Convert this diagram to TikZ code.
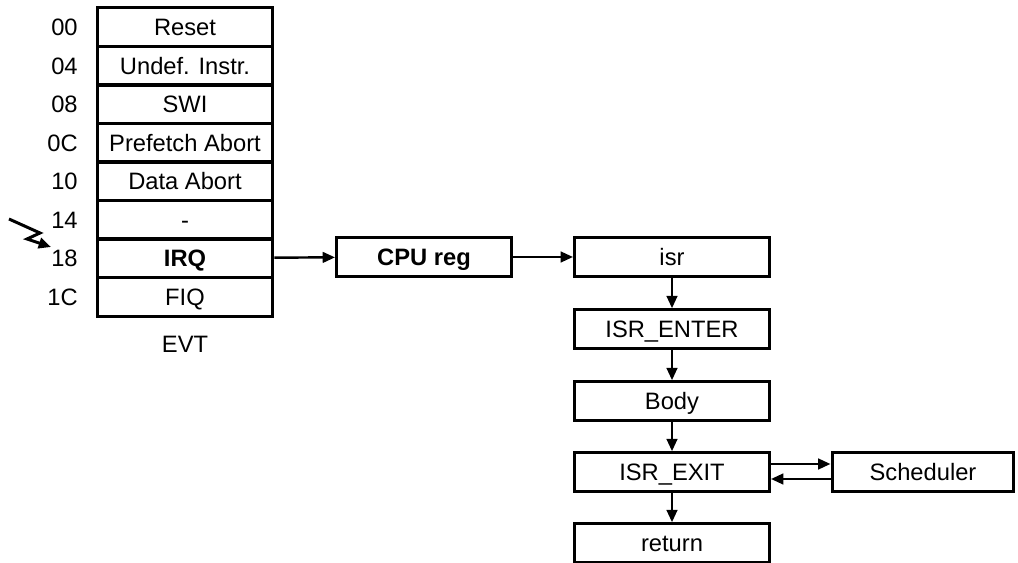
\documentclass[tikz,border=0pt]{standalone}
\usepackage{fontspec}
\setmainfont{Liberation Sans}
\usetikzlibrary{arrows.meta}

\tikzset{
  evtrow/.style={draw, line width=1.7pt, minimum width=3.52cm, minimum height=0.77cm, inner sep=1pt, text height=11pt, text depth=1.3pt},
  isrbox/.style={draw, line width=1.7pt, minimum width=3.9cm, minimum height=0.77cm, inner sep=1pt, text height=11pt, text depth=1.3pt},
  addr/.style={anchor=east, inner sep=0pt, text height=11pt, text depth=1.3pt},
  arr/.style={line width=1.4pt, -{Triangle[length=7pt,width=6pt]}}
}

\begin{document}
\begin{tikzpicture}[x=0.02cm, y=-0.02cm, font=\fontsize{13.5}{16}\selectfont]
            \useasboundingbox (0,0) rectangle (1018,563);

            \node[evtrow] (r0) at (185, 27) {Reset};
            \node[evtrow] (r1) at (185, 66) {Undef. Instr.};
            \node[evtrow] (r2) at (185, 104) {SWI};
            \node[evtrow] (r3) at (185, 143) {Prefetch Abort};
            \node[evtrow] (r4) at (185, 181) {Data Abort};
            \node[evtrow] (r5) at (185, 220) {-};
            \node[evtrow] (r6) at (185, 258) {\bfseries IRQ};
            \node[evtrow] (r7) at (185, 297) {FIQ};
            \node (evt) at (185, 344) {EVT};

            \node[addr] (a0) at (78, 27) {00};
            \node[addr] (a1) at (78, 66) {04};
            \node[addr] (a2) at (78, 104) {08};
            \node[addr] (a3) at (78, 143) {0C};
            \node[addr] (a4) at (78, 181) {10};
            \node[addr] (a5) at (78, 220) {14};
            \node[addr] (a6) at (78, 258) {18};
            \node[addr] (a7) at (78, 297) {1C};

            \node[isrbox, minimum width=3.5cm] (cpu) at (424, 257) {\bfseries CPU reg};
            \node[isrbox] (isr) at (672, 257) {isr};
            \node[isrbox] (enter) at (672, 329) {ISR\_ENTER};
            \node[isrbox] (body) at (672, 401) {Body};
            \node[isrbox] (exit) at (672, 472) {ISR\_EXIT};
            \node[isrbox] (ret) at (672, 543) {return};
            \node[isrbox, minimum width=3.64cm] (sched) at (923, 472) {Scheduler};

            % interrupt
            \coordinate (z0) at (9, 219);
            \coordinate (z1) at (40, 233);
            \coordinate (z2) at (27, 239);
            \coordinate (z3) at (51, 247);
            \draw[arr, line width=1.7pt] (z0) -- (z1) -- (z2) -- (z3);

            \draw[arr] (r6) -- (cpu);
            \draw[arr] (cpu) -- (isr);
            \draw[arr] (isr) -- (enter);
            \draw[arr] (enter) -- (body);
            \draw[arr] (body) -- (exit);
            \draw[arr] (exit) -- (ret);
            \draw[arr] ([yshift=0.16cm]exit.east) -- ([yshift=0.16cm]sched.west);
            \draw[arr] ([yshift=-0.14cm]sched.west) -- ([yshift=-0.14cm]exit.east);
    	\end{tikzpicture}
\end{document}
